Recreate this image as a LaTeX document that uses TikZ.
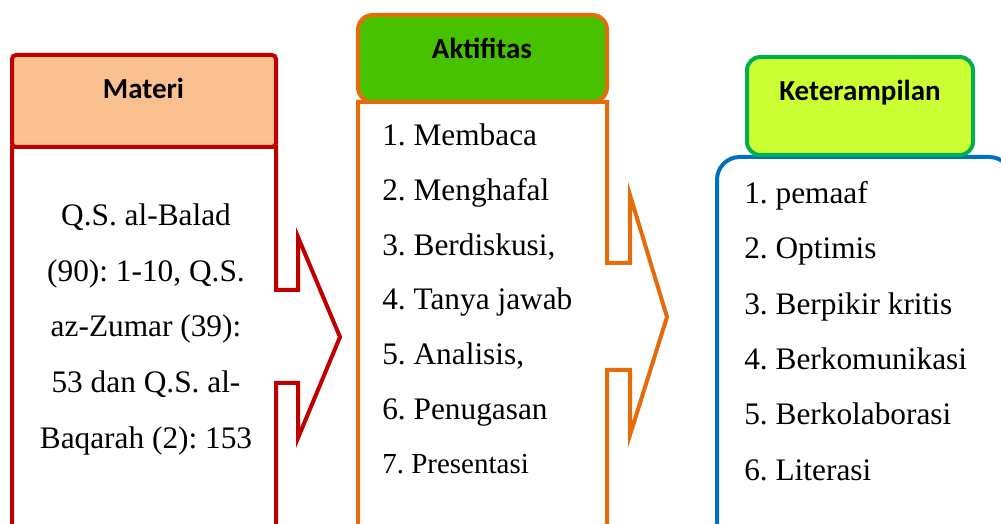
\documentclass[tikz,border=0pt]{standalone}
\usepackage{fontspec}
\setmainfont{Liberation Serif}
\newfontfamily\hdfont{Carlito}
\frenchspacing
\definecolor{cred}{HTML}{C00000}
\definecolor{cpeach}{HTML}{FAC090}
\definecolor{corange}{HTML}{E46C0A}
\definecolor{cgreen}{HTML}{46C200}
\definecolor{clime}{HTML}{CCFF33}
\definecolor{cgborder}{HTML}{00B050}
\definecolor{cblue}{HTML}{0070C0}
\tikzset{
  outline/.style={line width=3pt, line join=miter},
  hdtext/.style={anchor=base, inner sep=0pt, font=\hdfont\bfseries\fontsize{21.75}{26}\selectfont},
  bodytext/.style={anchor=base west, inner sep=0pt, font=\frenchspacing\fontsize{23.5}{28}\selectfont},
  ctrtext/.style={anchor=base, inner sep=0pt, font=\frenchspacing\fontsize{23.5}{28}\selectfont},
  smalltext/.style={anchor=base west, inner sep=0pt, font=\frenchspacing\fontsize{21.75}{26}\selectfont}
}
\begin{document}
\begin{tikzpicture}[x=0.75pt, y=-0.75pt]
\clip (0,0) rectangle (1001,524);
\fill[white] (0,0) rectangle (1001,524);

% ---------- Materi ----------
\draw[outline, draw=cred, fill=white]
  (12,540) -- (12,147) -- (276,147) -- (276,290) -- (298,290) -- (298,237)
  -- (340,337) -- (298,438) -- (298,383) -- (276,383) -- (276,540);
\draw[outline, draw=cred, fill=cpeach, rounded corners=3pt]
  (12,147) -- (12,55) -- (276,55) -- (276,147) -- cycle;
\node[hdtext] (hmat) at (143.5,99) {Materi};
\node[ctrtext] (m1) at (146,226) {Q.S. al-Balad};
\node[ctrtext] (m2) at (146,281.5) {(90): 1-10, Q.S.};
\node[ctrtext] (m3) at (146,337) {az-Zumar (39):};
\node[ctrtext] (m4) at (146,392.5) {53 dan Q.S. al-};
\node[ctrtext] (m5) at (146,448) {Baqarah (2): 153};

% ---------- Aktifitas ----------
\draw[outline, draw=corange, fill=white]
  (358,540) -- (358,102) -- (607,102) -- (607,263) -- (630,263) -- (630,195)
  -- (667,317) -- (630,435) -- (630,370) -- (607,370) -- (607,540);
\draw[outline, draw=corange, fill=cgreen, rounded corners=11pt]
  (358,15) rectangle (607,102);
\node[hdtext] (hakt) at (482,59) {Aktifitas};
\node[bodytext] (a1) at (382,146) {1. Membaca};
\node[bodytext] (a2) at (382,201) {2. Menghafal};
\node[bodytext] (a3) at (382,255.5) {3. Berdiskusi,};
\node[bodytext] (a4) at (382,310) {4. Tanya jawab};
\node[bodytext] (a5) at (382,365) {5. Analisis,};
\node[bodytext] (a6) at (382,419.5) {6. Penugasan};
\node[smalltext] (a7) at (382,474) {7. Presentasi};

% ---------- Keterampilan ----------
\draw[outline, draw=cblue, fill=white, rounded corners=17pt]
  (717,157) rectangle (1012,545);
\draw[outline, draw=cgborder, fill=clime, rounded corners=10pt]
  (747,57) rectangle (973,155);
\node[hdtext] (hket) at (860,101) {Keterampilan};
\node[bodytext] (k1) at (744,204) {1. pemaaf};
\node[bodytext] (k2) at (744,259) {2. Optimis};
\node[bodytext] (k3) at (744,314.5) {3. Berpikir kritis};
\node[bodytext] (k4) at (744,369.5) {4. Berkomunikasi};
\node[bodytext] (k5) at (744,424.5) {5. Berkolaborasi};
\node[bodytext] (k6) at (744,480) {6. Literasi};
\end{tikzpicture}
\end{document}
